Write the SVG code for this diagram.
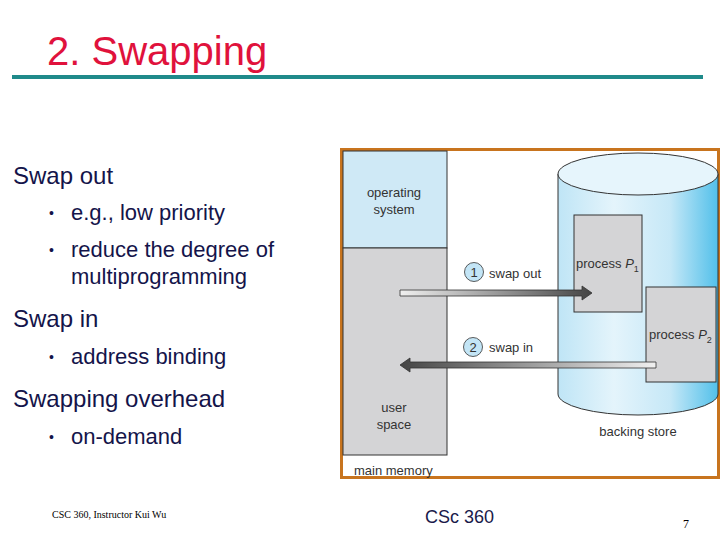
<svg xmlns="http://www.w3.org/2000/svg" width="720" height="540" viewBox="0 0 720 540">
<style>
.t{font-family:"Liberation Sans",Arial,sans-serif;fill:#14144a}
.b{font-size:24px}
.s{font-size:22px}
.u{font-size:14px}
.d{font-family:"Liberation Sans",Arial,sans-serif;font-size:13px;fill:#333}
.box{fill:#d4d4d6;stroke:#333;stroke-width:1}
.num{fill:#c3e5f6;stroke:#333;stroke-width:0.8}
</style>
<defs>
<linearGradient id="cyl" x1="0" y1="0" x2="1" y2="0">
<stop offset="0" stop-color="#bfe5f6"/>
<stop offset="0.35" stop-color="#e4f4fb"/>
<stop offset="0.7" stop-color="#c6e8f7"/>
<stop offset="1" stop-color="#52c0ea"/>
</linearGradient>
<linearGradient id="out" x1="0" y1="0" x2="1" y2="0">
<stop offset="0" stop-color="#f0f0f0"/>
<stop offset="1" stop-color="#444"/>
</linearGradient>
<linearGradient id="in" x1="1" y1="0" x2="0" y2="0">
<stop offset="0" stop-color="#f0f0f0"/>
<stop offset="1" stop-color="#444"/>
</linearGradient>
</defs>
<rect width="720" height="540" fill="#fff"/>
<g id="title">
<text x="47" y="65" font-family="Liberation Sans,Arial,sans-serif" font-size="40" fill="#e0123c">2. Swapping</text>
<rect x="12" y="75" width="691" height="4" fill="#1f8a8a"/>
</g>
<g id="bullets">
<text class="t b" x="13" y="184">Swap out</text>
<text class="t u" x="49" y="218">•</text><text class="t s" x="71" y="220">e.g., low priority</text>
<text class="t u" x="49" y="255">•</text><text class="t s" x="71" y="257">reduce the degree of</text>
<text class="t s" x="71" y="284">multiprogramming</text>
<text class="t b" x="13" y="327">Swap in</text>
<text class="t u" x="49" y="362">•</text><text class="t s" x="71" y="364">address binding</text>
<text class="t b" x="13" y="407">Swapping overhead</text>
<text class="t u" x="49" y="442">•</text><text class="t s" x="71" y="444">on-demand</text>
</g>
<g id="figure">
<rect x="341.5" y="149.5" width="377" height="328" fill="#fff" stroke="#c8741e" stroke-width="3"/>
</g>
<g id="main-memory">
<rect x="343" y="151" width="104" height="97" fill="#cfe9f6" stroke="#333" stroke-width="1"/>
<rect x="343" y="248" width="104" height="207" fill="#d4d4d6" stroke="#333" stroke-width="1"/>
<text class="d" x="394" y="197" text-anchor="middle">operating</text>
<text class="d" x="394" y="214" text-anchor="middle">system</text>
<text class="d" x="394" y="412" text-anchor="middle">user</text>
<text class="d" x="394" y="429" text-anchor="middle">space</text>
<text class="d" x="354" y="475">main memory</text>
</g>
<g id="backing-store">
<path d="M558,174 L558,394 A80,21 0 0 0 718,394 L718,174 Z" fill="url(#cyl)" stroke="#333" stroke-width="1"/>
<ellipse cx="638" cy="174" rx="80" ry="21" fill="#e6f5fc" stroke="#333" stroke-width="1"/>
<text class="d" x="638" y="436" text-anchor="middle">backing store</text>
</g>
<g id="process-p1">
<rect class="box" x="574" y="215" width="68" height="97"/>
<text class="d" x="576" y="268">process <tspan font-style="italic">P</tspan><tspan font-size="9" dy="4">1</tspan></text>
</g>
<g id="process-p2">
<rect class="box" x="646" y="287" width="70" height="95"/>
<text class="d" x="649" y="339">process <tspan font-style="italic">P</tspan><tspan font-size="9" dy="4">2</tspan></text>
</g>
<g id="connectors">
<path d="M400,290 L582,290 L582,286 L592,293 L582,300 L582,296 L400,296 Z" fill="url(#out)" stroke="#333" stroke-width="0.8"/>
<path d="M656,362 L410,362 L410,358 L400,365 L410,372 L410,368 L656,368 Z" fill="url(#in)" stroke="#333" stroke-width="0.8"/>
<circle class="num" cx="474" cy="272" r="9.5"/>
<text class="d" x="474" y="277" text-anchor="middle">1</text>
<text class="d" x="489" y="278">swap out</text>
<circle class="num" cx="473" cy="347" r="9.5"/>
<text class="d" x="473" y="352" text-anchor="middle">2</text>
<text class="d" x="489" y="352">swap in</text>
</g>
<g id="footer">
<text x="52" y="518" font-family="Liberation Serif,Times New Roman,serif" font-size="10" fill="#000">CSC 360, Instructor Kui Wu</text>
<text x="425" y="523" font-family="Liberation Sans,Arial,sans-serif" font-size="18" fill="#1a1a4a">CSc 360</text>
<text x="683" y="528" font-family="Liberation Serif,Times New Roman,serif" font-size="12" fill="#000">7</text>
</g>
</svg>
